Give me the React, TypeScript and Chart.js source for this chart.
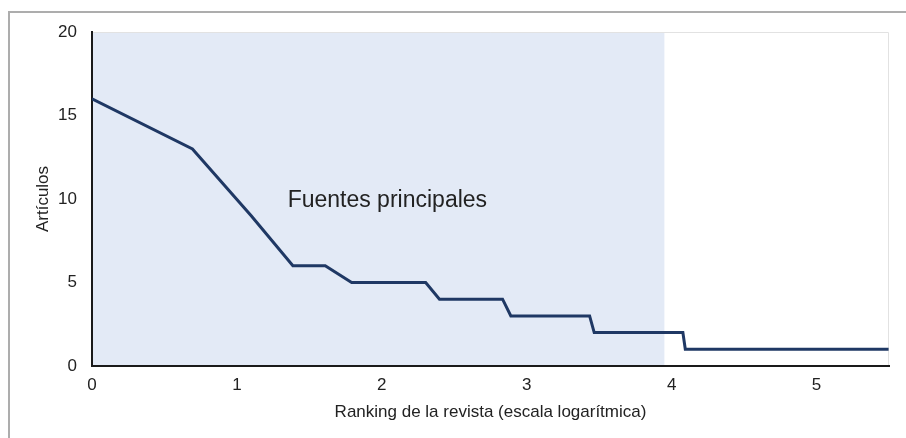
import React, { useEffect, useRef } from "react";
import { Chart, registerables } from "chart.js";

Chart.register(...registerables);

// Journal rank at each breakpoint of the curve, and the number of articles
const ranks = [1, 2, 3, 4, 5, 6, 10, 11, 17, 18, 31, 32, 59, 60, 244];
const articles = [16, 13, 9, 6, 6, 5, 5, 4, 4, 3, 3, 2, 2, 1, 1];
const xTicks = [0, 1, 2, 3, 4, 5];
const yTicks = [0, 5, 10, 15, 20];
const coreZoneEnd = 3.95; // ln(rank) where the "Fuentes principales" zone ends
const coreLabel = "Fuentes principales";
const coreLabelPos = { x: 1.35, y: 9.9 };

const FONT = "'Liberation Sans', Arial, sans-serif";

export default function App() {
  const ref = useRef<HTMLCanvasElement | null>(null);

  useEffect(() => {
    if (!ref.current) return;
    const data = ranks.map((r, i) => ({ x: Math.log(r), y: articles[i] }));

    const zonePlugin = {
      id: "zone",
      beforeDraw(chart: any) {
        const { ctx, chartArea, scales } = chart;
        const x0 = scales.x.getPixelForValue(0);
        const x1 = scales.x.getPixelForValue(coreZoneEnd);
        ctx.save();
        ctx.fillStyle = "#e3eaf6";
        ctx.fillRect(x0, chartArea.top, x1 - x0, chartArea.bottom - chartArea.top);
        ctx.strokeStyle = "#e2e2e2";
        ctx.lineWidth = 1;
        ctx.beginPath();
        ctx.moveTo(chartArea.left, chartArea.top + 0.5);
        ctx.lineTo(chartArea.right - 0.5, chartArea.top + 0.5);
        ctx.lineTo(chartArea.right - 0.5, chartArea.bottom);
        ctx.stroke();
        ctx.restore();
      },
      afterDatasetsDraw(chart: any) {
        const { ctx, scales } = chart;
        ctx.save();
        ctx.fillStyle = "#222";
        ctx.font = `23px ${FONT}`;
        ctx.textAlign = "left";
        ctx.textBaseline = "middle";
        ctx.fillText(
          coreLabel,
          scales.x.getPixelForValue(coreLabelPos.x),
          scales.y.getPixelForValue(coreLabelPos.y)
        );
        ctx.restore();
      },
    };

    const chart = new Chart(ref.current, {
      type: "line",
      data: {
        datasets: [
          {
            data,
            borderColor: "#1f3864",
            borderWidth: 3,
            pointRadius: 0,
            tension: 0,
            fill: false,
          },
        ],
      },
      options: {
        animation: false,
        responsive: false,
        maintainAspectRatio: false,
        layout: { padding: { left: 0, top: 32, right: 17, bottom: 0 } },
        plugins: { legend: { display: false }, tooltip: { enabled: false } },
        scales: {
          x: {
            type: "linear",
            min: 0,
            max: 5.5,
            afterFit: (s: any) => {
              s.height = 72;
            },
            afterBuildTicks: (s: any) => {
              s.ticks = xTicks.map((v) => ({ value: v }));
            },
            grid: { display: false, drawTicks: false },
            border: { display: true, color: "#1a1a1a", width: 2 },
            ticks: {
              includeBounds: false,
              padding: 9,
              color: "#222",
              font: { family: FONT, size: 17 },
              maxRotation: 0,
            },
            title: {
              display: true,
              text: "Ranking de la revista (escala logarítmica)",
              color: "#222",
              font: { family: FONT, size: 17 },
              padding: { top: 0, bottom: 15.5 },
            },
          },
          y: {
            type: "linear",
            min: 0,
            max: 20,
            afterFit: (s: any) => {
              s.width = 92;
            },
            afterBuildTicks: (s: any) => {
              s.ticks = yTicks.map((v) => ({ value: v }));
            },
            grid: { display: false, drawTicks: false },
            border: { display: true, color: "#1a1a1a", width: 2 },
            ticks: {
              padding: 15,
              color: "#222",
              font: { family: FONT, size: 17 },
            },
            title: {
              display: true,
              text: "Artículos",
              color: "#222",
              font: { family: FONT, size: 17 },
              padding: { top: 33.5, bottom: 0 },
            },
          },
        },
      },
      plugins: [zonePlugin],
    });
    return () => chart.destroy();
  }, []);

  return (
    <>
      <div
        style={{
          position: "absolute",
          left: 8,
          top: 11,
          width: 898,
          height: 427,
          boxSizing: "border-box",
          borderLeft: "2px solid #adadad",
          borderTop: "2px solid #adadad",
        }}
      />
      <canvas
        ref={ref}
        width={906}
        height={438}
        style={{ position: "absolute", left: 0, top: 0, width: 906, height: 438 }}
      />
    </>
  );
}
